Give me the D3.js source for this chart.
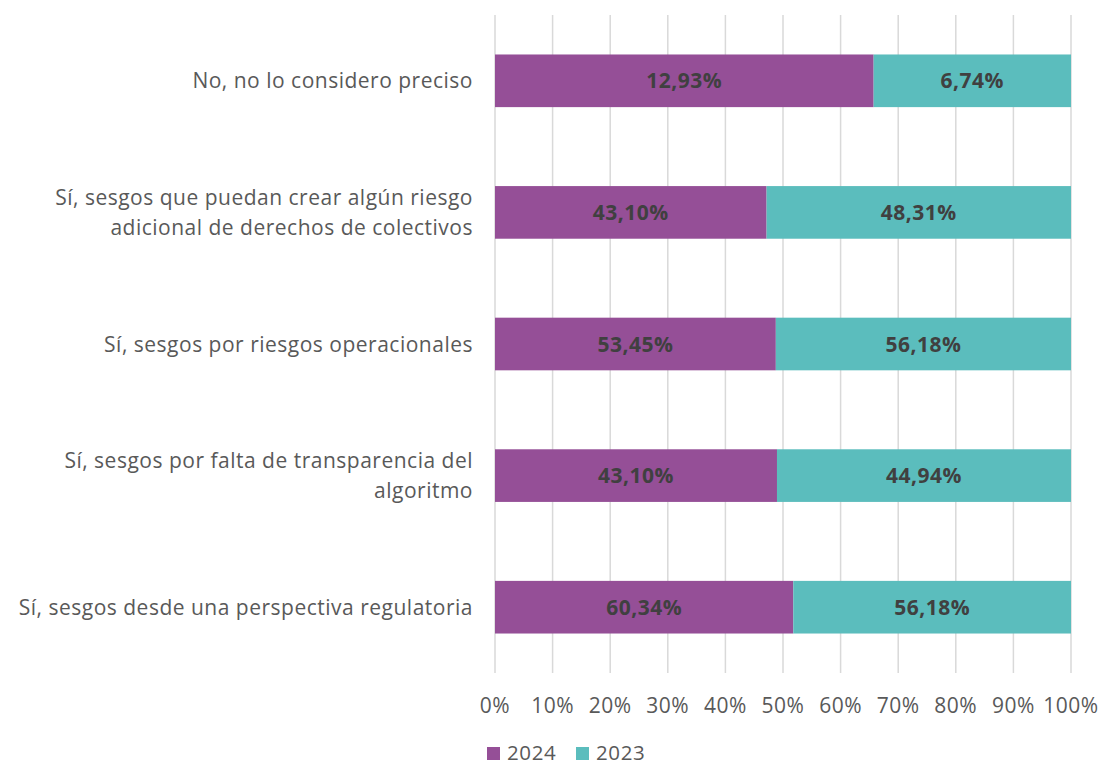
<!DOCTYPE html>
<html><head><meta charset="utf-8">
<script src="https://cdn.jsdelivr.net/npm/d3@7"></script>
<style>body{margin:0;background:#fff}svg{display:block}text{font-family:"Open Sans","Liberation Sans",sans-serif}</style>
</head><body><svg id="c" width="1102" height="767"></svg>
<script>
const categories = [
  ["No, no lo considero preciso"],
  ["Sí, sesgos que puedan crear algún riesgo","adicional de derechos de colectivos"],
  ["Sí, sesgos por riesgos operacionales"],
  ["Sí, sesgos por falta de transparencia del","algoritmo"],
  ["Sí, sesgos desde una perspectiva regulatoria"]
];
const values2024 = [12.93, 43.10, 53.45, 43.10, 60.34];
const values2023 = [6.74, 48.31, 56.18, 44.94, 56.18];
const seriesNames = ["2024", "2023"];
const colors = ["#954F97", "#5BBDBD"];
const tickValues = [0,0.1,0.2,0.3,0.4,0.5,0.6,0.7,0.8,0.9,1];

const svg = d3.select("#c");
const x = d3.scaleLinear().domain([0,1]).range([495,1071]);
const y = d3.scaleBand().domain(d3.range(categories.length)).range([15,673]).paddingInner(0.6).paddingOuter(0.3);

// gridlines
svg.append("g").selectAll("line").data(tickValues).join("line")
  .attr("x1",d=>x(d)).attr("x2",d=>x(d)).attr("y1",15).attr("y2",673)
  .attr("stroke","#d9d9d9").attr("stroke-width",1.5);

const fmt = v => v.toFixed(2).replace(".",",") + "%";
const rows = categories.map((c,i)=>{
  const t = values2024[i]+values2023[i];
  return {i, a: values2024[i]/t, b: values2023[i]/t, va: values2024[i], vb: values2023[i]};
});

const g = svg.append("g");
rows.forEach(r=>{
  const segs = [{x0:0,x1:r.a,c:colors[0],v:r.va},{x0:r.a,x1:1,c:colors[1],v:r.vb}];
  segs.forEach(s=>{
    g.append("rect").attr("x",x(s.x0)).attr("width",x(s.x1)-x(s.x0))
      .attr("y",y(r.i)).attr("height",y.bandwidth()).attr("fill",s.c);
    g.append("text").attr("x",(x(s.x0)+x(s.x1))/2).attr("y",y(r.i)+y.bandwidth()/2)
      .attr("dy","0.36em").attr("text-anchor","middle").attr("font-size",21).attr("font-weight","bold")
      .attr("letter-spacing",0.5).attr("fill","#404040").text(fmt(s.v));
  });
});

// category labels
categories.forEach((lines,i)=>{
  const cy = y(i)+y.bandwidth()/2;
  const t = svg.append("text").attr("text-anchor","end").attr("font-size",21).attr("letter-spacing",0.5)
    .attr("fill","#595959");
  lines.forEach((l,j)=>{
    t.append("tspan").attr("x",473).attr("y",cy + (j-(lines.length-1)/2)*30).attr("dy","0.36em").text(l);
  });
});

// x axis labels
svg.append("g").selectAll("text").data(tickValues).join("text")
  .attr("x",d=>x(d)).attr("y",705).attr("dy","0.36em").attr("text-anchor","middle")
  .attr("font-size",21).attr("letter-spacing",0.5).attr("fill","#595959").text(d=>Math.round(d*100)+"%");

// legend
const lg = svg.append("g");
const lx = [487, 576];
seriesNames.forEach((n,i)=>{
  lg.append("rect").attr("x",lx[i]).attr("y",747).attr("width",13).attr("height",13).attr("fill",colors[i]);
  lg.append("text").attr("x",lx[i]+20).attr("y",753).attr("dy","0.36em").attr("font-size",20.5).attr("letter-spacing",0.6)
    .attr("fill","#595959").text(n);
});
</script></body></html>
